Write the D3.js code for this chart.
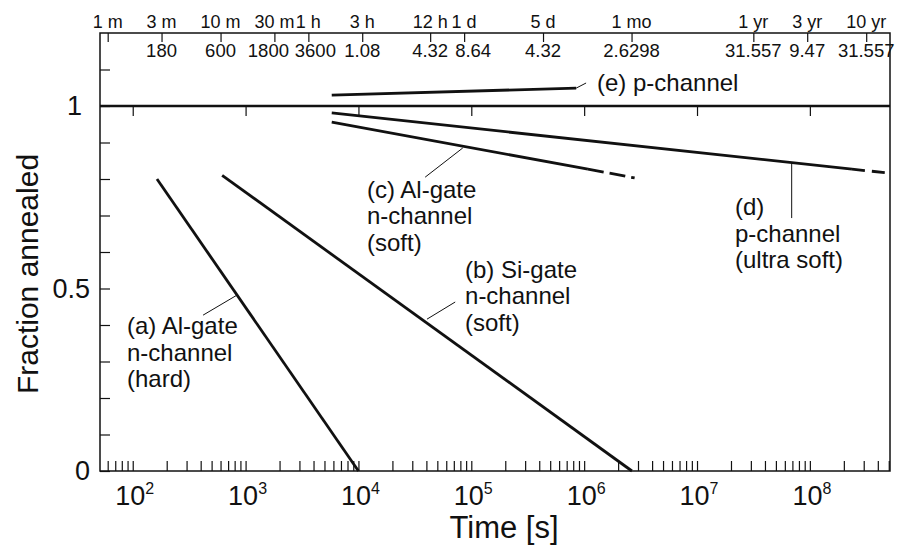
<!DOCTYPE html>
<html>
<head>
<meta charset="utf-8">
<script src="https://cdn.jsdelivr.net/npm/d3@7"></script>
<style>
  body { margin: 0; background: #fff; }
  svg { display: block; font-family: "Liberation Sans", Arial, Helvetica, sans-serif; }
</style>
</head>
<body>
<svg id="chart" width="907" height="547"></svg>
<script>
// top time-unit axis
var topTimes = [60, 180, 600, 1800, 3600, 10800, 43200, 86400, 432000, 2629800, 31557000, 94700000, 315570000];
var topUnits = ["1 m", "3 m", "10 m", "30 m", "1 h", "3 h", "12 h", "1 d", "5 d", "1 mo", "1 yr", "3 yr", "10 yr"];
var topValues = ["", "180", "600", "1800", "3600", "1.08", "4.32", "8.64", "4.32", "2.6298", "31.557", "9.47", "31.557"];

// bottom axis decades
var decades = [2, 3, 4, 5, 6, 7, 8];
var yLabels = [0, 0.5, 1];

// annealing curves (time in s, fraction annealed)
var aTime = [164, 1e4],      aFrac = [0.80, 0];
var bTime = [620, 2.65e6],   bFrac = [0.81, 0];
var cTime = [5.8e3, 1.08e6], cFrac = [0.956, 0.827];
var cDashTime = [1.08e6, 2.8e6], cDashFrac = [0.827, 0.803];
var dTime = [5.8e3, 2.36e8], dFrac = [0.981, 0.827];
var dDashTime = [2.36e8, 5.1e8], dDashFrac = [0.827, 0.816];
var eTime = [5.8e3, 8.5e5],  eFrac = [1.030, 1.049];

// labels
var labelText = [
  ["(a) Al-gate", "n-channel", "(hard)"],
  ["(b) Si-gate", "n-channel", "(soft)"],
  ["(c) Al-gate", "n-channel", "(soft)"],
  ["(d)", "p-channel", "(ultra soft)"],
  ["(e) p-channel"]
];
var labelTime = [89, 8.8e4, 1.19e4, 2.17e7, 1.3e6];
var labelFrac = [0.375, 0.529, 0.748, 0.701, 1.041];

// leader lines
var leadFromTime = [840, 4.05e4, 8.4e4, 6.9e7, 8.5e5];
var leadFromFrac = [0.482, 0.416, 0.885, 0.844, 1.049];
var leadToTime = [420, 7.2e4, 3.9e4, 6.9e7, 1.04e6];
var leadToFrac = [0.427, 0.463, 0.805, 0.693, 1.063];

var svg = d3.select("#chart");
var x = d3.scaleLog().domain([Math.pow(10, 1.71), Math.pow(10, 8.71)]).range([100, 890]);
var y = d3.scaleLinear().domain([0, 1.2]).range([471, 33]);

// frame
svg.append("rect")
  .attr("x", x.range()[0]).attr("y", y(1.2))
  .attr("width", x.range()[1] - x.range()[0]).attr("height", y(0) - y(1.2))
  .attr("fill", "none").attr("stroke", "#111").attr("stroke-width", 1.5);

// bottom minor ticks
var minor = [];
for (var d = 1; d <= 8; d++) {
  for (var m = 1; m <= 9; m++) {
    var v = m * Math.pow(10, d);
    if (v >= x.domain()[0] && v <= x.domain()[1]) minor.push(v);
  }
}
svg.append("g")
  .attr("transform", "translate(0," + y(0) + ")")
  .call(d3.axisBottom(x).tickValues(minor).tickSize(-10).tickFormat(""))
  .call(function (g) {
    g.select(".domain").remove();
    g.selectAll("line").attr("stroke", "#111").attr("stroke-width", 1.2);
  });

// bottom labels 10^n
var bl = svg.append("g").selectAll("text").data(decades).enter().append("text")
  .attr("x", function (d) { return x(Math.pow(10, d)) + 2; })
  .attr("y", 505)
  .attr("text-anchor", "middle")
  .attr("font-size", 27)
  .attr("fill", "#111");
bl.append("tspan").text("10");
bl.append("tspan").attr("dy", -11).attr("font-size", 16).text(function (d) { return d; });

svg.append("text")
  .attr("x", 504).attr("y", 538)
  .attr("text-anchor", "middle").attr("font-size", 31).attr("fill", "#111")
  .text("Time [s]");

// left ticks
svg.append("g")
  .attr("transform", "translate(" + x.range()[0] + ",0)")
  .call(d3.axisLeft(y).tickValues(d3.range(0, 12).map(function (i) { return i / 10; })).tickSize(-10).tickFormat(""))
  .call(function (g) {
    g.select(".domain").remove();
    g.selectAll("line").attr("stroke", "#111").attr("stroke-width", 1.2);
  });

svg.append("g").selectAll("text").data(yLabels).enter().append("text")
  .attr("x", function (d) { return d === 1 ? 82 : 90; })
  .attr("y", function (d) { return y(d) + 9; })
  .attr("text-anchor", "end")
  .attr("font-size", 27)
  .attr("fill", "#111")
  .text(function (d) { return d; });

svg.append("text")
  .attr("transform", "translate(38,274) rotate(-90)")
  .attr("text-anchor", "middle").attr("font-size", 30).attr("fill", "#111")
  .text("Fraction annealed");

// top axis
svg.append("g")
  .attr("transform", "translate(0," + y(1.2) + ")")
  .call(d3.axisBottom(x).tickValues(topTimes).tickSize(9).tickFormat(""))
  .call(function (g) {
    g.select(".domain").remove();
    g.selectAll("line").attr("stroke", "#111").attr("stroke-width", 1.2);
  });

svg.append("g").selectAll("text").data(topTimes).enter().append("text")
  .attr("x", function (d) { return x(d); })
  .attr("y", 28)
  .attr("text-anchor", "middle").attr("font-size", 18).attr("fill", "#111")
  .text(function (d, i) { return topUnits[i]; });

// a few value labels sit off-centre so they do not collide
var nudge = { "1800": -6, "3600": 7, "8.64": 9 };
svg.append("g").selectAll("text").data(topTimes).enter().append("text")
  .attr("x", function (d, i) { return x(d) + (nudge[topValues[i]] || 0); })
  .attr("y", 57)
  .attr("text-anchor", "middle").attr("font-size", 18.5).attr("fill", "#111")
  .text(function (d, i) { return topValues[i]; });

// reference line at 1 with decade ticks
svg.append("line")
  .attr("x1", x.range()[0]).attr("x2", x.range()[1])
  .attr("y1", y(1)).attr("y2", y(1))
  .attr("stroke", "#111").attr("stroke-width", 2.6);

svg.append("g")
  .attr("transform", "translate(0," + y(1) + ")")
  .call(d3.axisBottom(x).tickValues(decades.map(function (d) { return Math.pow(10, d); })).tickSize(10).tickFormat(""))
  .call(function (g) {
    g.select(".domain").remove();
    g.selectAll("line").attr("stroke", "#111").attr("stroke-width", 1.2);
  });

// curves
var line = d3.line().x(function (p) { return x(p[0]); }).y(function (p) { return y(p[1]); });
function curve(t, f, dash) {
  svg.append("path")
    .attr("d", line(d3.zip(t, f)))
    .attr("fill", "none").attr("stroke", "#111").attr("stroke-width", 2.8)
    .attr("stroke-dasharray", dash || null);
}
curve(aTime, aFrac);
curve(bTime, bFrac);
curve(cTime, cFrac);
curve(cDashTime, cDashFrac, "16,6");
curve(dTime, dFrac);
curve(dDashTime, dDashFrac, "13,7");
curve(eTime, eFrac);

// leaders
svg.append("g").selectAll("line").data(leadFromTime).enter().append("line")
  .attr("x1", function (d) { return x(d); })
  .attr("y1", function (d, i) { return y(leadFromFrac[i]); })
  .attr("x2", function (d, i) { return x(leadToTime[i]); })
  .attr("y2", function (d, i) { return y(leadToFrac[i]); })
  .attr("stroke", "#111").attr("stroke-width", 1);

// labels
labelText.forEach(function (lines, i) {
  var t = svg.append("text")
    .attr("x", x(labelTime[i]))
    .attr("y", y(labelFrac[i]))
    .attr("font-size", 24).attr("fill", "#111");
  lines.forEach(function (s, j) {
    t.append("tspan").attr("x", x(labelTime[i])).attr("dy", j === 0 ? 0 : 26.5).text(s);
  });
});
</script>
</body>
</html>
